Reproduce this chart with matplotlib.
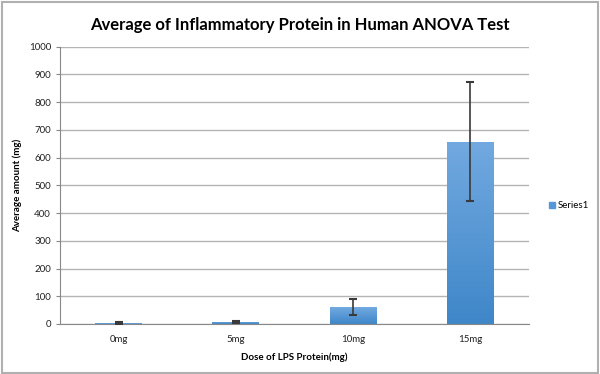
import numpy as np
import matplotlib.pyplot as plt
from matplotlib.colors import LinearSegmentedColormap
from matplotlib.patches import Rectangle

doses = ['0mg', '5mg', '10mg', '15mg']
avg_amount = [3, 8, 61, 658]
err = [3, 3, 30, 214]

plt.rcParams['font.family'] = ['Lato', 'DejaVu Sans']

fig = plt.figure(figsize=(6, 3.74), dpi=100)
ax = fig.add_axes([0.1, 0.1337, 0.7817, 0.7413])

x = np.arange(len(doses))
bars = ax.bar(x, avg_amount, width=0.4, color='#5597d8', zorder=2, label='Series1')

# vertical gradient like the excel bars
cmap = LinearSegmentedColormap.from_list('bar', ['#3f87c9', '#72a9e0'])
grad = np.linspace(0, 1, 256).reshape(-1, 1)
for b in bars:
    bx, by = b.get_x(), b.get_y()
    bw, bh = b.get_width(), b.get_height()
    im = ax.imshow(grad, cmap=cmap, origin='lower', aspect='auto',
                   extent=[bx, bx + bw, by, by + bh], zorder=2.5)
    im.set_clip_path(b)

ax.errorbar(x, avg_amount, yerr=err, fmt='none', ecolor='#3a3a3a',
            elinewidth=1.2, capsize=3, capthick=1.5, zorder=3)

ax.set_xlim(-0.5, 3.5)
ax.set_ylim(0, 1000)
ax.set_yticks(range(0, 1001, 100))
ax.set_xticks(x)
ax.set_xticklabels(doses)
ax.tick_params(axis='both', labelsize=7, length=3, color='#888888', colors='#222222')
ax.tick_params(axis='x', length=0, pad=8)
ax.yaxis.grid(True, color='#b4b4b4', linewidth=1)
ax.set_axisbelow(True)
for s in ['top', 'right']:
    ax.spines[s].set_visible(False)
ax.spines['left'].set_color('#888888')
ax.spines['bottom'].set_color('#888888')

ax.set_xlabel('Dose of LPS Protein(mg)', fontsize=7, fontweight='bold', labelpad=6)
ax.set_ylabel('Average amount (mg)', fontsize=7, fontweight='bold', labelpad=5)
fig.suptitle('Average of Inflammatory Protein in Human ANOVA Test', fontsize=12,
             fontweight='bold', x=0.5, y=0.955)

handle = Rectangle((0, 0), 1, 1, color='#5597d8')
fig.legend([handle], ['Series1'], loc='center left', bbox_to_anchor=(0.9, 0.45),
           frameon=False, fontsize=7, handlelength=0.6, handleheight=0.6,
           handletextpad=0.3)

fig.patches.append(Rectangle((0.003, 0.004), 0.993, 0.991, transform=fig.transFigure,
                             fill=False, edgecolor='#b0b0b0', linewidth=1.5))

fig.savefig('out.png', dpi=100)
